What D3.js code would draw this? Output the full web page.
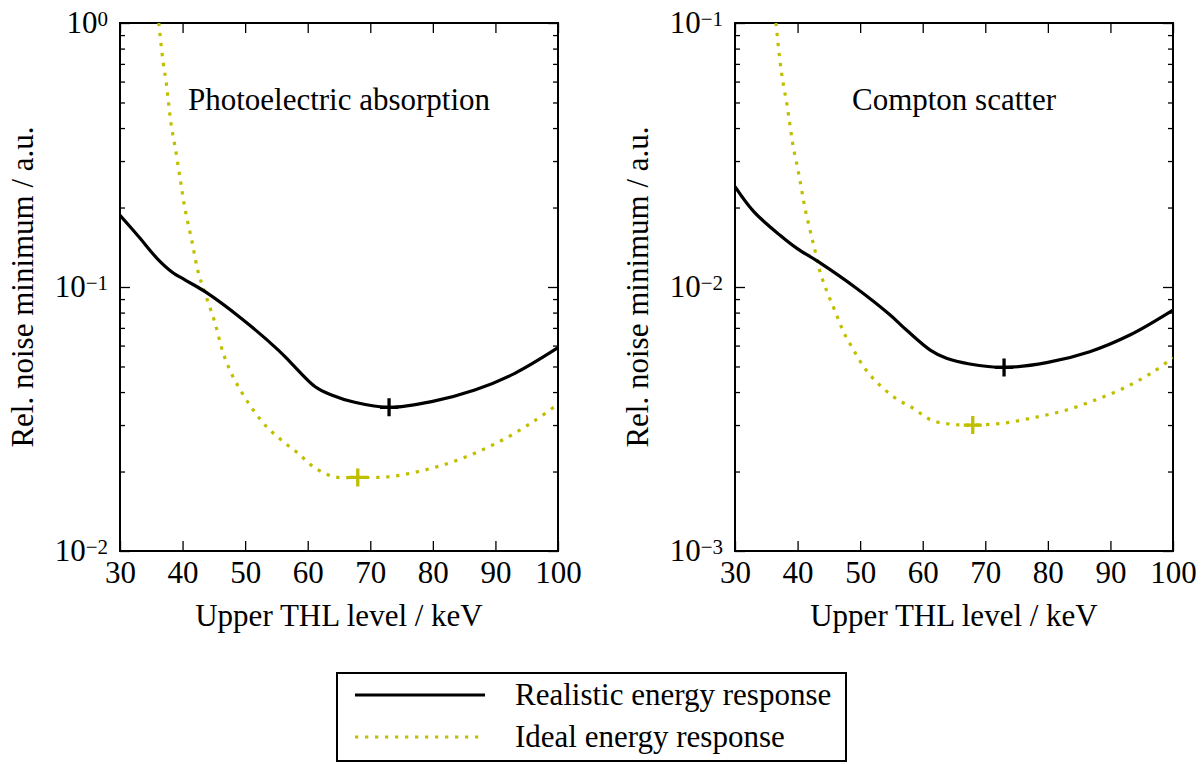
<!DOCTYPE html>
<html>
<head>
<meta charset="utf-8">
<script src="https://cdn.jsdelivr.net/npm/d3@7"></script>
<style>
  body { margin: 0; background: #fff; }
  text { font-family: "Liberation Serif", "DejaVu Serif", serif; fill: #000; }
</style>
</head>
<body>
<svg id="chart" width="1203" height="764"></svg>
<script>
// --- data ---
const xTicks = [30, 40, 50, 60, 70, 80, 90, 100];

// Photoelectric absorption
const photoRealX = [30, 33, 36.1, 38.3, 40.5, 43.6, 49.4, 55.3, 57.4, 61.2, 63.8, 67.5, 73, 79.8, 86.7, 93.1, 100];
const photoRealY = [0.187, 0.155, 0.127, 0.114, 0.106, 0.096, 0.076, 0.0577, 0.0514, 0.0419, 0.039, 0.0366, 0.035, 0.0368, 0.0407, 0.0471, 0.0589];
const photoIdealX = [36.2, 36.9, 37.4, 37.8, 38.2, 38.8, 39.6, 40.4, 41.5, 42.5, 43.6, 45.2, 46.5, 47.8, 49.4, 51.3, 53.4, 55.8, 58.5, 61.2, 64.3, 68, 72.9, 77.7, 82.5, 87.3, 92.1, 96.4, 100];
const photoIdealY = [1.0, 0.708, 0.592, 0.489, 0.408, 0.340, 0.258, 0.197, 0.149, 0.1137, 0.0946, 0.0729, 0.0561, 0.0471, 0.0401, 0.0342, 0.0296, 0.0263, 0.0234, 0.0206, 0.0191, 0.0190, 0.0191, 0.0200, 0.0215, 0.0238, 0.0271, 0.0313, 0.036];
const photoMin = { real: [73, 0.035], ideal: [68, 0.019] };

// Compton scatter
const comptonRealX = [30, 33, 37.2, 39.9, 43.3, 49.4, 54.8, 57.4, 61.2, 63.8, 67.5, 73, 79.8, 86.7, 93.1, 100];
const comptonRealY = [0.0240, 0.0193, 0.0157, 0.0140, 0.01247, 0.00989, 0.00783, 0.00687, 0.00577, 0.00537, 0.00511, 0.00496, 0.00517, 0.00569, 0.00658, 0.00818];
const comptonIdealX = [36.55, 37.2, 37.7, 38.3, 38.8, 39.3, 40.0, 40.6, 41.2, 42.0, 42.8, 43.6, 44.7, 46.0, 47.3, 48.9, 50.8, 52.9, 55.6, 58.5, 61.4, 64.6, 68.0, 72.9, 78.0, 83.0, 87.8, 92.6, 96.9, 100];
const comptonIdealY = [0.1, 0.0714, 0.0591, 0.0492, 0.0408, 0.0340, 0.0283, 0.0237, 0.0198, 0.0164, 0.0137, 0.0114, 0.0096, 0.0081, 0.0068, 0.0058, 0.0049, 0.0043, 0.0038, 0.00347, 0.00313, 0.00302, 0.0030, 0.00305, 0.00321, 0.00342, 0.00375, 0.00419, 0.00478, 0.0054];
const comptonMin = { real: [73, 0.00496], ideal: [68, 0.0030] };

const legendLabels = ["Realistic energy response", "Ideal energy response"];
const yellow = "#bfbf00";
const FONT = 31;

const svg = d3.select("#chart");
const plotW = 438, plotH = 528, plotTop = 23;

const panels = [
  { id: "p", left: 120, title: "Photoelectric absorption", yDomain: [1e-2, 1],
    real: photoRealX.map((x, i) => [x, photoRealY[i]]),
    ideal: photoIdealX.map((x, i) => [x, photoIdealY[i]]),
    min: photoMin },
  { id: "c", left: 735, title: "Compton scatter", yDomain: [1e-3, 1e-1],
    real: comptonRealX.map((x, i) => [x, comptonRealY[i]]),
    ideal: comptonIdealX.map((x, i) => [x, comptonIdealY[i]]),
    min: comptonMin }
];

function supLabel(sel, exp) {
  sel.text(null);
  sel.append("tspan").text("10");
  sel.append("tspan").attr("dy", "-0.34em").attr("font-size", 21)
    .text(exp < 0 ? "\u2212" + (-exp) : String(exp));
}

panels.forEach(p => {
  const g = svg.append("g").attr("transform", `translate(${p.left},${plotTop})`);
  const x = d3.scaleLinear().domain([30, 100]).range([0, plotW]);
  const y = d3.scaleLog().domain(p.yDomain).range([plotH, 0]);

  g.append("defs").append("clipPath").attr("id", "clip-" + p.id)
    .append("rect").attr("width", plotW).attr("height", plotH);

  const e0 = Math.round(Math.log10(p.yDomain[0])), e1 = Math.round(Math.log10(p.yDomain[1]));
  const majors = d3.range(e0, e1 + 1).map(e => Math.pow(10, e));
  const minors = [];
  d3.range(e0, e1).forEach(e => { for (let k = 2; k <= 9; k++) minors.push(k * Math.pow(10, e)); });

  // x axes (ticks inward)
  g.append("g").attr("transform", `translate(0,${plotH})`)
    .call(d3.axisBottom(x).tickValues(xTicks).tickSize(-10).tickPadding(10).tickFormat(d3.format("d")));
  g.append("g")
    .call(d3.axisTop(x).tickValues(xTicks).tickSize(-10).tickFormat(""));

  // y axes
  const yl = g.append("g")
    .call(d3.axisLeft(y).tickValues(majors).tickSize(-10).tickPadding(12).tickFormat(""));
  yl.selectAll(".tick text").each(function(d) { supLabel(d3.select(this), Math.round(Math.log10(d))); });
  g.append("g").call(d3.axisLeft(y).tickValues(minors).tickSize(-5).tickFormat(""));
  g.append("g").attr("transform", `translate(${plotW},0)`)
    .call(d3.axisRight(y).tickValues(majors).tickSize(-10).tickFormat(""));
  g.append("g").attr("transform", `translate(${plotW},0)`)
    .call(d3.axisRight(y).tickValues(minors).tickSize(-5).tickFormat(""));

  g.selectAll(".domain").remove();
  g.selectAll(".tick line").attr("stroke", "#000").attr("stroke-width", 1.3);
  g.selectAll(".tick text").attr("font-size", FONT).attr("font-family", null);

  // frame
  g.append("rect").attr("width", plotW).attr("height", plotH)
    .attr("fill", "none").attr("stroke", "#000").attr("stroke-width", 2);

  const line = d3.line().x(d => x(d[0])).y(d => y(d[1])).curve(d3.curveCatmullRom.alpha(0.5));
  const curves = g.append("g").attr("clip-path", `url(#clip-${p.id})`);
  curves.append("path").datum(p.ideal).attr("d", line)
    .attr("fill", "none").attr("stroke", yellow).attr("stroke-width", 3.2)
    .attr("stroke-dasharray", "3.3,6.7");
  curves.append("path").datum(p.real).attr("d", line)
    .attr("fill", "none").attr("stroke", "#000").attr("stroke-width", 3.2);

  // minimum markers
  [[p.min.real, "#000"], [p.min.ideal, yellow]].forEach(([m, c]) => {
    const cx = x(m[0]), cy = y(m[1]);
    g.append("path").attr("d", `M${cx - 9},${cy}H${cx + 9}M${cx},${cy - 9}V${cy + 9}`)
      .attr("stroke", c).attr("stroke-width", 3.3).attr("fill", "none");
  });

  // panel title
  g.append("text").attr("x", plotW / 2).attr("y", 87).attr("text-anchor", "middle")
    .attr("font-size", FONT).text(p.title);

  // axis labels
  g.append("text").attr("x", plotW / 2).attr("y", plotH + 75).attr("text-anchor", "middle")
    .attr("font-size", FONT).text("Upper THL level / keV");
  g.append("text").attr("transform", `translate(-87,${plotH / 2}) rotate(-90)`)
    .attr("text-anchor", "middle").attr("font-size", FONT).text("Rel. noise minimum / a.u.");
});

// --- legend ---
const leg = svg.append("g").attr("transform", "translate(337,673)");
leg.append("rect").attr("width", 509).attr("height", 88)
  .attr("fill", "#fff").attr("stroke", "#000").attr("stroke-width", 2);
legendLabels.forEach((lab, i) => {
  const ly = 22 + i * 42;
  leg.append("line").attr("x1", 18).attr("x2", 148).attr("y1", ly).attr("y2", ly)
    .attr("stroke", i === 0 ? "#000" : yellow).attr("stroke-width", 3.2)
    .attr("stroke-dasharray", i === 0 ? null : "3.3,6.7");
  leg.append("text").attr("x", 178).attr("y", ly + 10).attr("font-size", FONT).text(lab);
});
</script>
</body>
</html>
